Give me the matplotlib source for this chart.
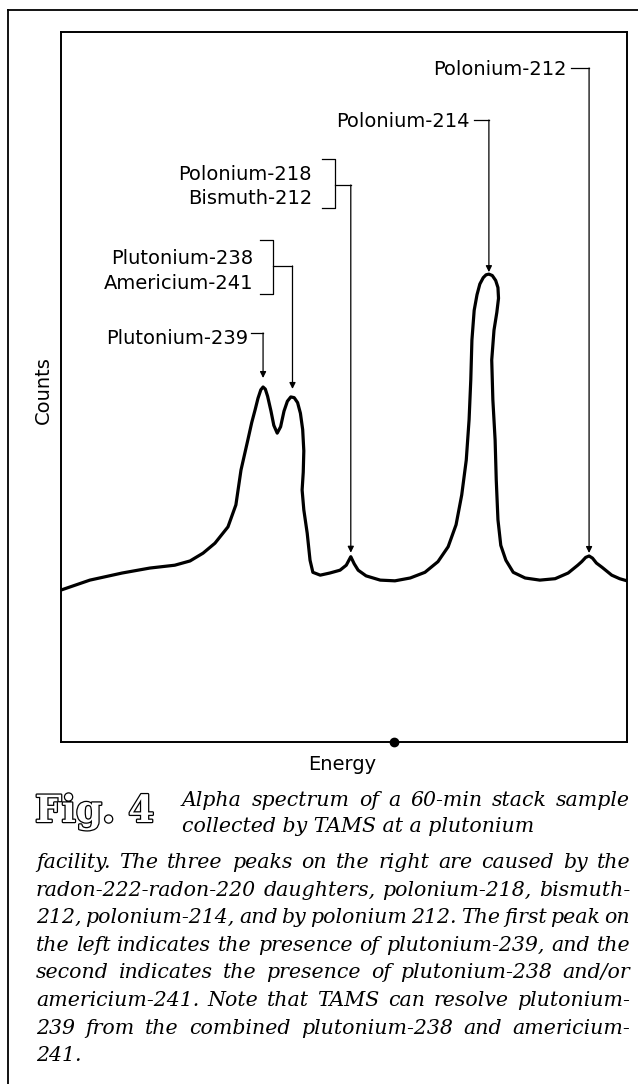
import matplotlib
matplotlib.use("Agg")
import matplotlib.pyplot as plt
import matplotlib.patheffects as pe
from matplotlib.lines import Line2D
import numpy as np

# spectrum (arbitrary energy / counts units, 0-100)
energy = np.array([
    0.0, 5.1, 10.8, 15.7, 20.1, 22.8, 25.1, 27.2, 29.5, 30.9,
    31.8, 33.0, 33.7, 34.3, 34.8, 35.3, 35.7, 36.1, 36.5, 37.1,
    37.6, 38.2, 38.8, 39.4, 40.0, 40.6, 41.2, 41.8, 42.3, 42.7,
    42.9, 42.8, 42.6, 42.9, 43.5, 44.0, 44.5, 45.8, 47.5, 49.3,
    50.4, 51.2, 51.8, 52.5, 53.9, 56.4, 59.0, 61.7, 64.3, 66.6,
    68.4, 69.8, 70.8, 71.6, 72.1, 72.4, 72.6, 73.0, 73.5, 74.0,
    74.6, 75.1, 75.6, 76.2, 76.8, 77.2, 77.3, 77.0, 76.5, 76.1,
    76.3, 76.7, 76.9, 77.2, 77.7, 78.6, 79.9, 82.0, 84.6, 87.3,
    89.6, 91.3, 92.0, 92.7, 93.3, 93.9, 94.6, 95.6, 97.3, 98.7,
    100.0,
])
counts = np.array([
    21.4, 22.8, 23.8, 24.5, 24.9, 25.5, 26.6, 28.0, 30.3, 33.4,
    38.3, 42.5, 45.0, 46.8, 48.4, 49.6, 50.0, 49.7, 48.7, 46.6,
    44.6, 43.5, 44.4, 46.6, 48.0, 48.6, 48.5, 47.8, 46.3, 44.0,
    41.0, 38.0, 35.5, 32.7, 29.4, 25.6, 23.9, 23.5, 23.8, 24.2,
    24.9, 26.1, 25.1, 24.2, 23.4, 22.8, 22.7, 23.1, 23.9, 25.4,
    27.5, 30.6, 34.8, 39.7, 45.4, 51.0, 56.6, 60.8, 63.0, 64.5,
    65.4, 65.8, 65.9, 65.7, 65.0, 64.0, 62.5, 60.5, 58.0, 53.8,
    48.2, 42.5, 36.9, 31.3, 27.7, 25.6, 23.9, 23.1, 22.8, 23.0,
    23.8, 24.9, 25.4, 26.0, 26.2, 25.9, 25.2, 24.6, 23.5, 23.0,
    22.7,
])

peak_names = [
    ["Plutonium-239"],
    ["Plutonium-238", "Americium-241"],
    ["Polonium-218", "Bismuth-212"],
    ["Polonium-214"],
    ["Polonium-212"],
]
peak_energy = [35.7, 40.9, 51.2, 75.6, 93.3]
peak_counts = [50.0, 48.6, 26.1, 65.9, 26.2]

caption_lines = [
    "Alpha spectrum of a 60-min stack sample",
    "collected by TAMS at a plutonium",
    "facility. The three peaks on the right are caused by the",
    "radon-222-radon-220 daughters, polonium-218, bismuth-",
    "212, polonium-214, and by polonium 212. The first peak on",
    "the left indicates the presence of plutonium-239, and the",
    "second indicates the presence of plutonium-238 and/or",
    "americium-241. Note that TAMS can resolve plutonium-",
    "239 from the combined plutonium-238 and americium-",
    "241.",
]
caption_justified = [True, False, True, True, True, True, True, True, True, False]

W, H = 638, 1084
AX_L, AX_R, AX_T, AX_B = 61, 627, 32, 742

# label layout in pixels: text right edge, text baselines, leader start, leader y,
# bracket (top, bottom) or None, arrow gap above peak
label_layout = [
    dict(right=248, ys=[344], tick=251, tick_y=333, bracket=None, gap=9),
    dict(right=253, ys=[264, 289], tick=273, tick_y=266, bracket=(240, 294), gap=8),
    dict(right=312, ys=[180, 204], tick=335, tick_y=185, bracket=(159, 208), gap=4),
    dict(right=470, ys=[127], tick=474, tick_y=120, bracket=None, gap=2),
    dict(right=567, ys=[75], tick=571, tick_y=68, bracket=None, gap=3),
]


def dx(px):
    return (px - AX_L) / (AX_R - AX_L) * 100


def dy(py):
    return (AX_B - py) / (AX_B - AX_T) * 100


def fxy(px, py):
    return px / W, 1 - py / H


def justify(fig, renderer, text, x0, x1, y, **kw):
    words = text.split()
    objs = [fig.text(0, 0, w, **kw) for w in words]
    widths = [o.get_window_extent(renderer).width for o in objs]
    gap = (x1 - x0 - sum(widths)) / max(len(words) - 1, 1)
    x = x0
    for o, w in zip(objs, widths):
        o.set_position(fxy(x, y))
        x += w + gap


def main():
    fig = plt.figure(figsize=(W / 100, H / 100), dpi=100)
    fig.patch.set_facecolor("white")

    # outer frame (open on the right/bottom, as in the scan)
    fig.add_artist(Line2D([8 / W, 8 / W], [0, 1 - 10 / H], color="black", lw=1.3))
    fig.add_artist(Line2D([8 / W, 1], [1 - 10 / H, 1 - 10 / H], color="black", lw=1.3))

    ax = fig.add_axes([AX_L / W, 1 - AX_B / H, (AX_R - AX_L) / W, (AX_B - AX_T) / H])
    ax.set_xlim(0, 100)
    ax.set_ylim(0, 100)
    ax.set_xticks([])
    ax.set_yticks([])
    for s in ax.spines.values():
        s.set_linewidth(1.4)

    ax.plot(energy, counts, color="black", lw=2.3, solid_joinstyle="round", solid_capstyle="round")
    ax.plot(dx(394), 0, "o", color="black", ms=6, clip_on=False, zorder=5)

    lw = 0.9
    for names, pe_x, pe_y, lay in zip(peak_names, peak_energy, peak_counts, label_layout):
        for name, yb in zip(names, lay["ys"]):
            ax.text(dx(lay["right"]), dy(yb), name, ha="right", va="baseline",
                    fontsize=14, family="DejaVu Sans")
        if lay["bracket"] is not None:
            top, bot = lay["bracket"]
            x0 = dx(lay["tick"] - 13)
            x1 = dx(lay["tick"])
            ax.plot([x0, x1, x1, x0], [dy(top), dy(top), dy(bot), dy(bot)], color="black", lw=lw)
        ax.plot([dx(lay["tick"]), pe_x], [dy(lay["tick_y"])] * 2, color="black", lw=lw)
        tip = pe_y + lay["gap"] * 100 / (AX_B - AX_T)
        ax.annotate("", xy=(pe_x, tip), xytext=(pe_x, dy(lay["tick_y"])),
                    arrowprops=dict(arrowstyle="-|>", color="black", lw=lw,
                                    mutation_scale=9, shrinkA=0, shrinkB=0))

    fig.text(*fxy(43, 390), "Counts", rotation=90, ha="center", va="center", fontsize=14)
    fig.text(*fxy(342, 770), "Energy", ha="center", va="baseline", fontsize=14)

    fig.text(*fxy(35, 822), "Fig. 4", family="DejaVu Serif", weight="bold", fontsize=27,
             color="white", va="baseline",
             path_effects=[pe.withStroke(linewidth=1.8, foreground="black")])

    renderer = fig.canvas.get_renderer()
    cap_kw = dict(family="DejaVu Serif", style="italic", fontsize=14.8, va="baseline", ha="left")
    baselines = [806, 832] + [868 + 27.6 * k for k in range(8)]
    for i, (line, just, yb) in enumerate(zip(caption_lines, caption_justified, baselines)):
        x0 = 182 if i < 2 else 36
        if just:
            justify(fig, renderer, line, x0, 630, yb, **cap_kw)
        else:
            fig.text(*fxy(x0, yb), line, **cap_kw)

    fig.savefig("out.png", dpi=100, facecolor="white")
    plt.close(fig)


if __name__ == "__main__":
    main()
